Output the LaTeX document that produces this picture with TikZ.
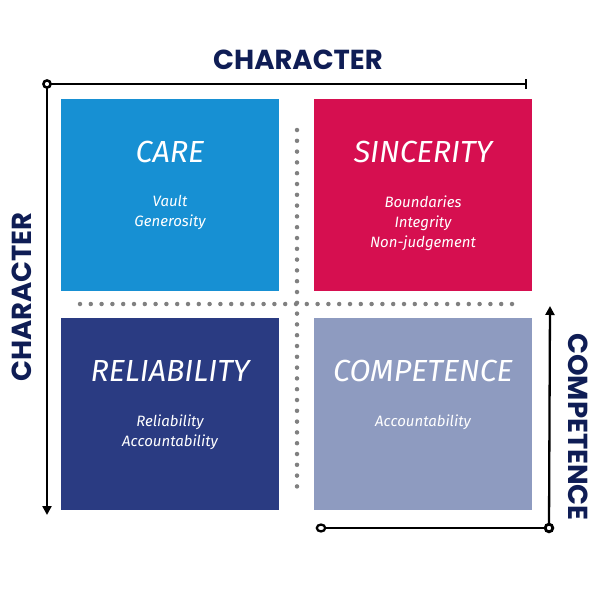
\documentclass[tikz,border=0pt]{standalone}
\usepackage{fontspec}
\setmainfont{Fira Sans}
\newfontfamily\headf{Poppins}
\usetikzlibrary{arrows.meta}
\definecolor{navy}{HTML}{0F1D55}
\definecolor{careblue}{HTML}{1790D3}
\definecolor{sinred}{HTML}{D60F50}
\definecolor{relblue}{HTML}{2A3B82}
\definecolor{compblue}{HTML}{8E9BC0}
\definecolor{dotgray}{HTML}{808080}
\tikzset{
  quad/.style={draw=none, minimum width=218pt, minimum height=192pt, inner sep=0pt, anchor=north west},
  qtitle/.style={text=white, font=\fontsize{30.5}{32}\selectfont\itshape, anchor=base},
  qitems/.style={text=white, font=\fontsize{15}{20}\selectfont\itshape, align=center, anchor=north},
  axis/.style={line width=2.3pt, black},
  axlabel/.style={text=navy, font=\headf\bfseries\fontsize{27.5}{29}\selectfont},
  dotline/.style={dotgray, line width=4.5pt, line cap=round, dash pattern=on 0pt off 10.8pt},
}
\begin{document}
\begin{tikzpicture}[x=1pt,y=-1pt]
\useasboundingbox (0,0) rectangle (600,600);
% quadrants
\node[quad, fill=careblue] (care) at (61,99) {};
\node[quad, fill=sinred] (sin) at (314,99) {};
\node[quad, fill=relblue] (rel) at (61,318) {};
\node[quad, fill=compblue] (comp) at (314,318) {};
% titles
\node[qtitle] (careT) at (170,162) {CARE};
\node[qtitle] (sinT) at (423,162) {SINCERITY};
\node[qtitle] (relT) at (170,381) {RELIABILITY};
\node[qtitle] (compT) at (423,381) {COMPETENCE};
% items
\node[qitems] (careI) at (170,192) {Vault\\Generosity};
\node[qitems] (sinI) at (423,192) {Boundaries\\Integrity\\Non-judgement};
\node[qitems] (relI) at (170,411) {Reliability\\Accountability};
\node[qitems] (compI) at (423,411) {Accountability};
% dotted dividers
\coordinate (hd1) at (80,304);
\coordinate (hd2) at (515,304);
\coordinate (vd1) at (297,130);
\coordinate (vd2) at (297,493);
\draw[dotline] (hd1) -- (hd2);
\draw[dotline] (vd1) -- (vd2);
% axes
\coordinate (tl) at (47,84);
\coordinate (tr) at (527,84);
\coordinate (bl) at (47,515);
\coordinate (br0) at (321,528);
\coordinate (br) at (549,528);
\coordinate (rt) at (550,306);
\draw[axis, -{Bar[width=10pt]}] (tl) -- (tr);
\draw[axis, -{Triangle[length=9pt,width=9pt]}] (tl) -- (bl);
\draw[axis, line width=2.5pt, fill=white] (tl) circle (3.6pt);
\draw[axis] (br0) -- (br);
\draw[axis, -{Triangle[length=9pt,width=9pt]}] (br) -- (rt);
\draw[axis, fill=white] (br0) ellipse (4.2pt and 3.4pt);
\draw[axis, line width=2.8pt, fill=white] (br) circle (3.8pt);
% axis labels
\node[axlabel] (topL) at (298,60) {CHARACTER};
\node[axlabel, rotate=90] (leftL) at (22,297) {CHARACTER};
\node[axlabel, rotate=-90] (rightL) at (578,427) {COMPETENCE};
\end{tikzpicture}
\end{document}
